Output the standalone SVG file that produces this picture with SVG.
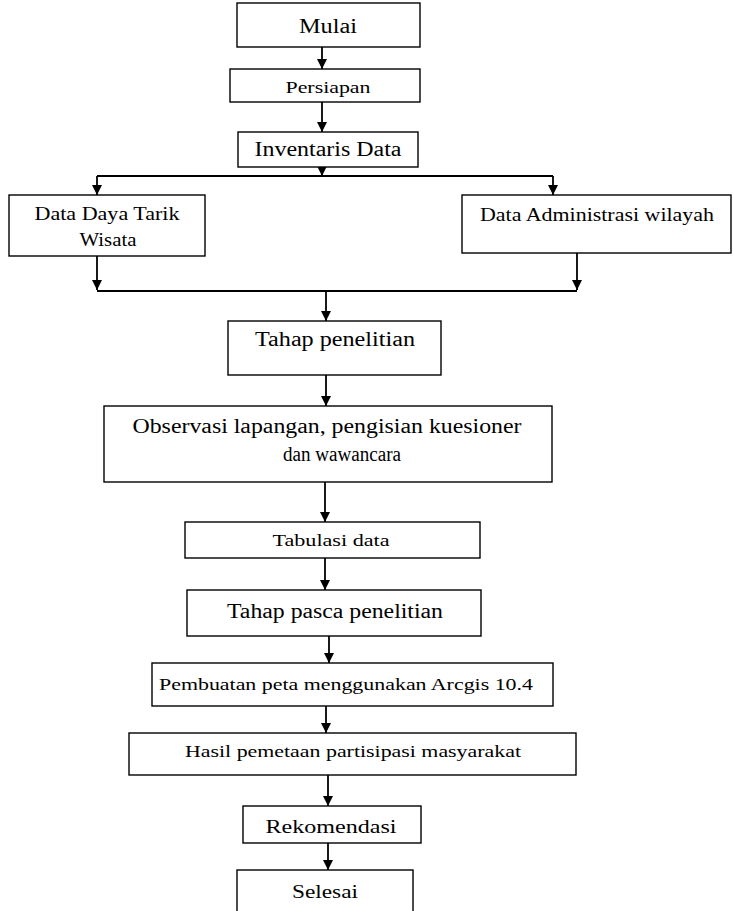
<svg xmlns="http://www.w3.org/2000/svg" width="733" height="911" viewBox="0 0 733 911">
<defs>
<style>
.box{fill:#fff;stroke:#000;stroke-width:1.4}
.t{font-family:"Liberation Serif","Times New Roman",serif;fill:#000;text-anchor:middle}
.c{fill:none;stroke:#000;stroke-width:1.8}
</style>
<marker id="ah" viewBox="0 0 10 10" refX="10" refY="5" markerWidth="11" markerHeight="10" markerUnits="userSpaceOnUse" orient="auto">
<path d="M0,0 L10,5 L0,10 z" fill="#000"/>
</marker>
</defs>
<rect width="733" height="911" fill="#fff"/>
<g id="connectors">
<path class="c" d="M322,47 V69" marker-end="url(#ah)"/>
<path class="c" d="M322,102 V132" marker-end="url(#ah)"/>
<path class="c" d="M322,167 V176" marker-end="url(#ah)"/>
<path class="c" d="M97,176 H553"/>
<path class="c" d="M97,176 V195" marker-end="url(#ah)"/>
<path class="c" d="M553,176 V195" marker-end="url(#ah)"/>
<path class="c" d="M97,256 V290" marker-end="url(#ah)"/>
<path class="c" d="M577,253 V290" marker-end="url(#ah)"/>
<path class="c" d="M97,291 H577"/>
<path class="c" d="M326,291 V321" marker-end="url(#ah)"/>
<path class="c" d="M326,375 V406" marker-end="url(#ah)"/>
<path class="c" d="M325,482 V522" marker-end="url(#ah)"/>
<path class="c" d="M325,558 V590" marker-end="url(#ah)"/>
<path class="c" d="M329,636 V663" marker-end="url(#ah)"/>
<path class="c" d="M326,706 V733" marker-end="url(#ah)"/>
<path class="c" d="M328,775 V806" marker-end="url(#ah)"/>
<path class="c" d="M328,843 V870" marker-end="url(#ah)"/>
</g>
<g id="mulai"><rect class="box" x="237" y="3" width="183" height="44"/><text class="t" x="328" y="33" font-size="20" textLength="58" lengthAdjust="spacingAndGlyphs">Mulai</text></g>
<g id="persiapan"><rect class="box" x="230" y="69" width="190" height="33"/><text class="t" x="328" y="93" font-size="17" textLength="85" lengthAdjust="spacingAndGlyphs">Persiapan</text></g>
<g id="inventaris"><rect class="box" x="238" y="132" width="180" height="35"/><text class="t" x="328" y="156" font-size="20" textLength="147" lengthAdjust="spacingAndGlyphs">Inventaris Data</text></g>
<g id="daya-tarik"><rect class="box" x="9" y="195" width="196" height="61"/><text class="t" x="107" y="220" font-size="19" textLength="145" lengthAdjust="spacingAndGlyphs">Data Daya Tarik</text><text class="t" x="108" y="246" font-size="19" textLength="57" lengthAdjust="spacingAndGlyphs">Wisata</text></g>
<g id="administrasi"><rect class="box" x="462" y="195" width="269" height="58"/><text class="t" x="597" y="221" font-size="19" textLength="234" lengthAdjust="spacingAndGlyphs">Data Administrasi wilayah</text></g>
<g id="tahap-penelitian"><rect class="box" x="228" y="321" width="213" height="54"/><text class="t" x="335" y="346" font-size="20" textLength="160" lengthAdjust="spacingAndGlyphs">Tahap penelitian</text></g>
<g id="observasi"><rect class="box" x="104" y="406" width="448" height="76"/><text class="t" x="327" y="433" font-size="20" textLength="389" lengthAdjust="spacingAndGlyphs">Observasi lapangan, pengisian kuesioner</text><text class="t" x="342" y="461" font-size="20" textLength="118" lengthAdjust="spacingAndGlyphs">dan wawancara</text></g>
<g id="tabulasi"><rect class="box" x="185" y="522" width="295" height="36"/><text class="t" x="331" y="546" font-size="16" textLength="117" lengthAdjust="spacingAndGlyphs">Tabulasi data</text></g>
<g id="tahap-pasca"><rect class="box" x="187" y="590" width="294" height="46"/><text class="t" x="335" y="618" font-size="20" textLength="216" lengthAdjust="spacingAndGlyphs">Tahap pasca penelitian</text></g>
<g id="pembuatan"><rect class="box" x="152" y="663" width="401" height="43"/><text class="t" x="346" y="690" font-size="17" textLength="374" lengthAdjust="spacingAndGlyphs">Pembuatan peta menggunakan Arcgis 10.4</text></g>
<g id="hasil"><rect class="box" x="129" y="733" width="447" height="42"/><text class="t" x="353" y="757" font-size="17" textLength="336" lengthAdjust="spacingAndGlyphs">Hasil pemetaan partisipasi masyarakat</text></g>
<g id="rekomendasi"><rect class="box" x="243" y="806" width="178" height="37"/><text class="t" x="331" y="833" font-size="19" textLength="131" lengthAdjust="spacingAndGlyphs">Rekomendasi</text></g>
<g id="selesai"><rect class="box" x="237" y="870" width="176" height="50"/><text class="t" x="325" y="898" font-size="19" textLength="66" lengthAdjust="spacingAndGlyphs">Selesai</text></g>
</svg>
